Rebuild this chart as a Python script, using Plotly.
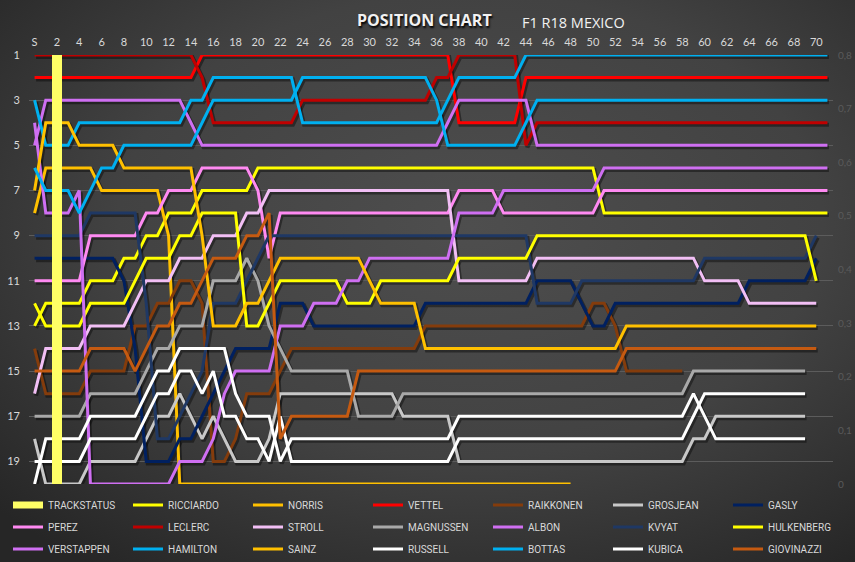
import base64
import plotly.graph_objects as go

N = None

# ---------------- data (positions per lap, index 0 = start "S") ----------------
LAPS = list(range(72))
TICK_LAPS = list(range(0, 71, 2))
TICK_TEXT = ["S"] + [str(v) for v in range(2, 71, 2)]
POS_TICKS = [1, 3, 5, 7, 9, 11, 13, 15, 17, 19]
STATUS_LAPS = [2]
STATUS_VALUES = [0.8]
RIGHT_TICKS = [0, 0.1, 0.2, 0.3, 0.4, 0.5, 0.6, 0.7, 0.8]
RIGHT_TEXT = ["0", "0,1", "0,2", "0,3", "0,4", "0,5", "0,6", "0,7", "0,8"]

RICCIARDO = [13, 12, 12, 12, 12, 11, 11, 11, 10, 10, 9, 9,
             8, 8, 8, 7, 7, 7, 7, 7, 6, 6, 6, 6,
             6, 6, 6, 6, 6, 6, 6, 6, 6, 6, 6, 6,
             6, 6, 6, 6, 6, 6, 6, 6, 6, 6, 6, 6,
             6, 6, 6, 8, 8, 8, 8, 8, 8, 8, 8, 8,
             8, 8, 8, 8, 8, 8, 8, 8, 8, 8, 8, 8]
NORRIS = [8, 6, 6, 6, 6, 6, 7, 7, 7, 7, 7, 7,
          9, 20, 20, 20, 20, 20, 20, 20, 20, 20, 20, 20,
          20, 20, 20, 20, 20, 20, 20, 20, 20, 20, 20, 20,
          20, 20, 20, 20, 20, 20, 20, 20, 20, 20, 20, 20,
          20, N, N, N, N, N, N, N, N, N, N, N,
          N, N, N, N, N, N, N, N, N, N, N, N]
VETTEL = [2, 2, 2, 2, 2, 2, 2, 2, 2, 2, 2, 2,
          2, 2, 2, 1, 1, 1, 1, 1, 1, 1, 1, 1,
          1, 1, 1, 1, 1, 1, 1, 1, 1, 1, 1, 1,
          1, 1, 4, 4, 4, 4, 4, 4, 2, 2, 2, 2,
          2, 2, 2, 2, 2, 2, 2, 2, 2, 2, 2, 2,
          2, 2, 2, 2, 2, 2, 2, 2, 2, 2, 2, 2]
RAIKKONEN = [14, 16, 16, 16, 16, 15, 15, 15, 15, 13, 13, 12,
             12, 11, 11, 12, 19, 19, 18, 16, 16, 16, 15, 14,
             14, 14, 14, 14, 14, 14, 14, 14, 14, 14, 14, 13,
             13, 13, 13, 13, 13, 13, 13, 13, 13, 13, 13, 13,
             13, 13, 12, 12, 13, 15, 15, 15, 15, 15, 15, N,
             N, N, N, N, N, N, N, N, N, N, N, N]
GROSJEAN = [18, 20, 20, 20, 20, 19, 19, 19, 19, 19, 18, 17,
            17, 16, 17, 18, 17, 18, 19, 19, 19, 18, 16, 16,
            16, 16, 16, 16, 16, 16, 16, 16, 16, 17, 17, 17,
            17, 17, 19, 19, 19, 19, 19, 19, 19, 19, 19, 19,
            19, 19, 19, 19, 19, 19, 19, 19, 19, 19, 19, 18,
            18, 17, 17, 17, 17, 17, 17, 17, 17, 17, N, N]
GASLY = [10, 10, 10, 10, 10, 10, 10, 10, 11, 14, 19, 19,
         19, 18, 18, 17, 16, 15, 14, 14, 14, 14, 12, 12,
         12, 13, 13, 13, 13, 13, 13, 13, 13, 13, 13, 12,
         12, 12, 12, 12, 12, 12, 12, 12, 12, 11, 11, 11,
         11, 12, 13, 13, 12, 12, 12, 12, 12, 12, 12, 12,
         12, 12, 12, 12, 11, 11, 11, 11, 11, 11, 10, N]
PEREZ = [11, 11, 11, 11, 11, 9, 9, 9, 9, 9, 8, 8,
         7, 7, 7, 6, 6, 6, 6, 6, 7, 10, 8, 8,
         8, 8, 8, 8, 8, 8, 8, 8, 8, 8, 8, 8,
         8, 8, 7, 7, 7, 7, 8, 8, 8, 8, 8, 8,
         8, 8, 8, 7, 7, 7, 7, 7, 7, 7, 7, 7,
         7, 7, 7, 7, 7, 7, 7, 7, 7, 7, 7, 7]
LECLERC = [1, 1, 1, 1, 1, 1, 1, 1, 1, 1, 1, 1,
           1, 1, 1, 2, 4, 4, 4, 4, 4, 4, 4, 4,
           3, 3, 3, 3, 3, 3, 3, 3, 3, 3, 3, 3,
           2, 2, 1, 1, 1, 1, 1, 1, 5, 4, 4, 4,
           4, 4, 4, 4, 4, 4, 4, 4, 4, 4, 4, 4,
           4, 4, 4, 4, 4, 4, 4, 4, 4, 4, 4, 4]
STROLL = [16, 14, 14, 14, 14, 13, 13, 13, 13, 12, 11, 11,
          11, 10, 10, 10, 9, 9, 9, 8, 8, 7, 7, 7,
          7, 7, 7, 7, 7, 7, 7, 7, 7, 7, 7, 7,
          7, 7, 11, 11, 11, 11, 11, 11, 11, 10, 10, 10,
          10, 10, 10, 10, 10, 10, 10, 10, 10, 10, 10, 10,
          11, 11, 11, 11, 12, 12, 12, 12, 12, 12, 12, N]
MAGNUSSEN = [17, 17, 17, 17, 17, 16, 16, 16, 16, 16, 15, 14,
             14, 13, 13, 13, 11, 11, 11, 10, 11, 13, 14, 15,
             15, 15, 15, 15, 15, 17, 17, 17, 17, 16, 16, 16,
             16, 16, 16, 16, 16, 16, 16, 16, 16, 16, 16, 16,
             16, 16, 16, 16, 16, 16, 16, 16, 16, 16, 16, 15,
             15, 15, 15, 15, 15, 15, 15, 15, 15, 15, N, N]
ALBON = [5, 3, 3, 3, 3, 3, 3, 3, 3, 3, 3, 3,
         3, 3, 4, 5, 5, 5, 5, 5, 5, 5, 5, 5,
         5, 5, 5, 5, 5, 5, 5, 5, 5, 5, 5, 5,
         5, 4, 3, 3, 3, 3, 3, 3, 3, 5, 5, 5,
         5, 5, 5, 5, 5, 5, 5, 5, 5, 5, 5, 5,
         5, 5, 5, 5, 5, 5, 5, 5, 5, 5, 5, 5]
KVYAT = [9, 9, 9, 9, 9, 8, 8, 8, 8, 8, 12, 18,
         18, 17, 16, 15, 12, 12, 12, 11, 10, 9, 9, 9,
         9, 9, 9, 9, 9, 9, 9, 9, 9, 9, 9, 9,
         9, 9, 9, 9, 9, 9, 9, 9, 9, 12, 12, 12,
         12, 11, 11, 11, 11, 11, 11, 11, 11, 11, 11, 11,
         10, 10, 10, 10, 10, 10, 10, 10, 10, 10, 9, N]
HULKENBERG = [12, 13, 13, 13, 13, 12, 12, 12, 12, 11, 10, 10,
              10, 9, 9, 8, 8, 8, 8, 13, 13, 12, 11, 11,
              11, 11, 11, 11, 12, 12, 12, 11, 11, 11, 11, 11,
              11, 11, 10, 10, 10, 10, 10, 10, 10, 9, 9, 9,
              9, 9, 9, 9, 9, 9, 9, 9, 9, 9, 9, 9,
              9, 9, 9, 9, 9, 9, 9, 9, 9, 9, 11, N]
VERSTAPPEN = [4, 8, 8, 8, 7, 20, 20, 20, 20, 20, 20, 20,
              20, 19, 19, 19, 18, 16, 15, 15, 15, 15, 13, 13,
              13, 12, 12, 12, 11, 11, 10, 10, 10, 10, 10, 10,
              10, 10, 8, 8, 8, 8, 7, 7, 7, 7, 7, 7,
              7, 7, 7, 6, 6, 6, 6, 6, 6, 6, 6, 6,
              6, 6, 6, 6, 6, 6, 6, 6, 6, 6, 6, 6]
HAMILTON = [3, 5, 5, 5, 4, 4, 4, 4, 4, 4, 4, 4,
            4, 4, 3, 3, 2, 2, 2, 2, 2, 2, 2, 2,
            4, 4, 4, 4, 4, 4, 4, 4, 4, 4, 4, 4,
            4, 3, 2, 2, 2, 2, 2, 2, 1, 1, 1, 1,
            1, 1, 1, 1, 1, 1, 1, 1, 1, 1, 1, 1,
            1, 1, 1, 1, 1, 1, 1, 1, 1, 1, 1, 1]
SAINZ = [7, 4, 4, 4, 5, 5, 5, 5, 6, 6, 6, 6,
         6, 6, 6, 9, 13, 13, 13, 12, 12, 11, 10, 10,
         10, 10, 10, 10, 10, 10, 11, 12, 12, 12, 12, 14,
         14, 14, 14, 14, 14, 14, 14, 14, 14, 14, 14, 14,
         14, 14, 14, 14, 14, 13, 13, 13, 13, 13, 13, 13,
         13, 13, 13, 13, 13, 13, 13, 13, 13, 13, 13, N]
RUSSELL = [19, 19, 19, 19, 19, 18, 18, 18, 18, 18, 17, 16,
           16, 15, 15, 16, 15, 17, 17, 18, 18, 19, 17, 19,
           19, 19, 19, 19, 19, 19, 19, 19, 19, 19, 19, 19,
           19, 19, 18, 18, 18, 18, 18, 18, 18, 18, 18, 18,
           18, 18, 18, 18, 18, 18, 18, 18, 18, 18, 18, 17,
           16, 16, 16, 16, 16, 16, 16, 16, 16, 16, N, N]
BOTTAS = [6, 7, 7, 7, 8, 7, 6, 6, 5, 5, 5, 5,
          5, 5, 5, 4, 3, 3, 3, 3, 3, 3, 3, 3,
          2, 2, 2, 2, 2, 2, 2, 2, 2, 2, 2, 2,
          3, 5, 5, 5, 5, 5, 5, 5, 4, 3, 3, 3,
          3, 3, 3, 3, 3, 3, 3, 3, 3, 3, 3, 3,
          3, 3, 3, 3, 3, 3, 3, 3, 3, 3, 3, 3]
KUBICA = [20, 18, 18, 18, 18, 17, 17, 17, 17, 17, 16, 15,
          15, 14, 14, 14, 14, 14, 16, 17, 17, 17, 19, 18,
          18, 18, 18, 18, 18, 18, 18, 18, 18, 18, 18, 18,
          18, 18, 17, 17, 17, 17, 17, 17, 17, 17, 17, 17,
          17, 17, 17, 17, 17, 17, 17, 17, 17, 17, 17, 16,
          17, 18, 18, 18, 18, 18, 18, 18, 18, 18, N, N]
GIOVINAZZI = [15, 15, 15, 15, 15, 14, 14, 14, 14, 15, 14, 13,
              13, 12, 12, 11, 10, 10, 10, 9, 9, 8, 18, 17,
              17, 17, 17, 17, 17, 15, 15, 15, 15, 15, 15, 15,
              15, 15, 15, 15, 15, 15, 15, 15, 15, 15, 15, 15,
              15, 15, 15, 15, 15, 14, 14, 14, 14, 14, 14, 14,
              14, 14, 14, 14, 14, 14, 14, 14, 14, 14, 14, N]

# legend grid (row-major as in the reference); first cell of row 1 is TRACKSTATUS
ROWS = [
    [("RICCIARDO", RICCIARDO, "#ffff00"), ("NORRIS", NORRIS, "#ffc000"),
     ("VETTEL", VETTEL, "#ff0000"), ("RAIKKONEN", RAIKKONEN, "#843c0c"),
     ("GROSJEAN", GROSJEAN, "#c8c8c8"), ("GASLY", GASLY, "#002060")],
    [("PEREZ", PEREZ, "#ff8af2"), ("LECLERC", LECLERC, "#c00000"),
     ("STROLL", STROLL, "#f2bff5"), ("MAGNUSSEN", MAGNUSSEN, "#a9a9a9"),
     ("ALBON", ALBON, "#cf6ff2"), ("KVYAT", KVYAT, "#1f3864"),
     ("HULKENBERG", HULKENBERG, "#ffff00")],
    [("VERSTAPPEN", VERSTAPPEN, "#cf6ff2"), ("HAMILTON", HAMILTON, "#00b0f0"),
     ("SAINZ", SAINZ, "#ffc000"), ("RUSSELL", RUSSELL, "#ffffff"),
     ("BOTTAS", BOTTAS, "#00b0f0"), ("KUBICA", KUBICA, "#ffffff"),
     ("GIOVINAZZI", GIOVINAZZI, "#c55a11")],
]

# ---------------- geometry ----------------
W, H = 855, 562
ML, MR, MT, MB = 29, 22, 55, 78
PW, PH = W - ML - MR, H - MT - MB
X_RANGE = [-0.5, 71.5]
Y_RANGE = [20, 1]
SHX = 1.5 * (X_RANGE[1] - X_RANGE[0]) / PW        # shadow shift (px -> data)
SHY = 2.0 * (Y_RANGE[0] - Y_RANGE[1]) / PH
LEG_X0, LEG_DX = 8, 120                            # legend column start/spacing (px)
LEG_ROWS_Y = [505, 527, 549]                        # legend row centres (px)

FONT = "Lato, 'Open Sans', sans-serif"
LEG_FONT = "Roboto, 'Open Sans', sans-serif"

fig = go.Figure()

# track status bar
fig.add_trace(go.Bar(x=STATUS_LAPS, y=STATUS_VALUES, name="TRACKSTATUS",
                     marker=dict(color="#ffff66", line=dict(width=0)),
                     width=0.95, xaxis="x2", yaxis="y3", showlegend=False,
                     hoverinfo="skip"))

cells = []
for r, row in enumerate(ROWS):
    for c, (name, vals, col) in enumerate(row):
        cells.append((r, c + (1 if r == 0 else 0), name, vals, col))


def legend_id(r, c):
    if c < 6:
        return ["legend", "legend2", "legend3"][r]
    return ["legend4", "legend5", "legend6"][r]


# legend sample for the track status bar
fig.add_trace(go.Scatter(x=[None], y=[None], mode="lines", name="TRACKSTATUS",
                         line=dict(color="#ffff66", width=7),
                         xaxis="x2", yaxis="y2", legend="legend",
                         hoverinfo="skip"))

# shadows (drawn first, on a slightly shifted base subplot)
for r, c, name, vals, col in cells:
    fig.add_trace(go.Scatter(x=LAPS, y=vals, mode="lines", showlegend=False,
                             line=dict(color="rgba(0,0,0,0.40)", width=4),
                             xaxis="x", yaxis="y", hoverinfo="skip"))

for r, c, name, vals, col in cells:
    fig.add_trace(go.Scatter(x=LAPS, y=vals, mode="lines", name=name,
                             line=dict(color=col, width=3),
                             xaxis="x2", yaxis="y2", legend=legend_id(r, c),
                             hoverinfo="skip"))

svg = ('<svg xmlns="http://www.w3.org/2000/svg" width="855" height="562">'
       '<defs><radialGradient id="g" cx="55%" cy="40%" r="75%">'
       '<stop offset="0" stop-color="#4e4e4e"/>'
       '<stop offset="0.55" stop-color="#424242"/>'
       '<stop offset="1" stop-color="#262626"/></radialGradient></defs>'
       '<rect width="855" height="562" fill="url(#g)"/></svg>')
bg_src = "data:image/svg+xml;base64," + base64.b64encode(svg.encode()).decode()

tick_font = dict(family=FONT, size=11, color="#d9d9d9")


def make_legend(px_x, px_y):
    return dict(orientation="h", xref="paper", yref="paper",
                x=(px_x - ML) / PW, y=(MT + PH - px_y) / PH,
                xanchor="left", yanchor="middle",
                entrywidth=LEG_DX - 45, entrywidthmode="pixels",
                bgcolor="rgba(0,0,0,0)", borderwidth=0,
                font=dict(family=LEG_FONT, size=10, color="#d9d9d9"),
                itemwidth=30, tracegroupgap=0)


fig.update_layout(
    width=W, height=H,
    margin=dict(l=ML, r=MR, t=MT, b=MB, pad=0, autoexpand=False),
    paper_bgcolor="#363636", plot_bgcolor="rgba(0,0,0,0)",
    images=[dict(source=bg_src, xref="paper", yref="paper",
                 x=-ML / PW, y=1 + MT / PH, sizex=W / PW, sizey=H / PH,
                 xanchor="left", yanchor="top", sizing="stretch",
                 layer="below")],
    xaxis=dict(range=[X_RANGE[0] - SHX, X_RANGE[1] - SHX], visible=False,
               fixedrange=True),
    yaxis=dict(range=[Y_RANGE[0] - SHY, Y_RANGE[1] - SHY], visible=False,
               fixedrange=True),
    xaxis2=dict(overlaying="x", side="top", range=X_RANGE,
                tickmode="array", tickvals=TICK_LAPS, ticktext=TICK_TEXT,
                showgrid=False, zeroline=False, showline=False, ticks="",
                ticklabelstandoff=6, tickfont=tick_font, automargin=False),
    yaxis2=dict(overlaying="y", side="left", range=Y_RANGE,
                tickmode="array", tickvals=POS_TICKS,
                showgrid=True, gridcolor="#5c5c5c", gridwidth=1,
                zeroline=False, showline=False, ticks="",
                ticklabelstandoff=8, tickfont=tick_font, automargin=False),
    yaxis3=dict(overlaying="y", side="right", range=[0, 0.8],
                tickmode="array", tickvals=RIGHT_TICKS, ticktext=RIGHT_TEXT,
                showgrid=False, zeroline=False, showline=False, ticks="",
                ticklabelstandoff=4, automargin=False,
                tickfont=dict(family=FONT, size=10, color="#5a5a5a")),
    bargap=0,
    showlegend=True,
    legend=make_legend(LEG_X0, LEG_ROWS_Y[0]),
    legend2=make_legend(LEG_X0, LEG_ROWS_Y[1]),
    legend3=make_legend(LEG_X0, LEG_ROWS_Y[2]),
    legend4=make_legend(LEG_X0 + 6 * LEG_DX, LEG_ROWS_Y[0]),
    legend5=make_legend(LEG_X0 + 6 * LEG_DX, LEG_ROWS_Y[1]),
    legend6=make_legend(LEG_X0 + 6 * LEG_DX, LEG_ROWS_Y[2]),
    hovermode=False,
    annotations=[
        dict(text="<b>POSITION CHART</b>", xref="paper", yref="paper",
             x=(424 - ML) / PW, y=(MT + PH - 20) / PH,
             xanchor="center", yanchor="middle", showarrow=False,
             font=dict(family="'Open Sans', sans-serif", size=16,
                       color="#f2f2f2", shadow="1px 2px 2px #000000")),
        dict(text="F1 R18 MEXICO", xref="paper", yref="paper",
             x=(520 - ML) / PW, y=(MT + PH - 22) / PH,
             xanchor="left", yanchor="middle", showarrow=False,
             font=dict(family="'Open Sans', sans-serif", size=14.5,
                       color="#f2f2f2")),
    ],
)

fig.write_html("out.html")
